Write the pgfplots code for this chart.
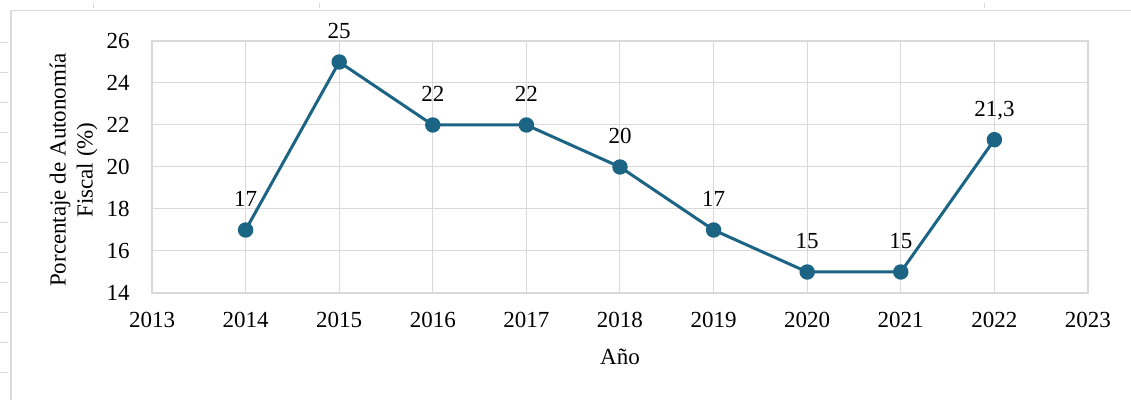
\documentclass[border=0pt]{standalone}
\usepackage{pgfplots}
\pgfplotsset{compat=1.18}
\usepackage{fontspec}
\setmainfont{Liberation Serif}
\definecolor{linec}{HTML}{1B6484}
\definecolor{gridc}{HTML}{D9D9D9}
\definecolor{framec}{HTML}{DADADA}
\begin{document}
\begin{tikzpicture}
\path[use as bounding box] (0pt,0pt) rectangle (565.5pt,200pt);
\begin{scope}[x=0.5pt,y=0.5pt]
% spreadsheet frame (decoration)
\draw[framec, line width=0.9pt] (11,389.5) -- (1131,389.5);
\draw[framec, line width=0.9pt] (11,389.5) -- (11,0);
\foreach \yy in {43,73,103,133,163,193,223,253,283,313,343,373}
  \draw[framec, line width=0.5pt] (0,400-\yy) -- (8,400-\yy);
\foreach \xx in {93,319,984}
  \draw[framec, line width=0.5pt] (\xx,392) -- (\xx,397);
\node[rotate=90, align=center, inner sep=0pt, font=\fontsize{11.5}{13.5}\selectfont] at (73.5,230) {Porcentaje de Autonomía\\Fiscal (\%)};
\end{scope}
\begin{axis}[
  at={(76pt,53.5pt)}, anchor=south west,
  scale only axis, width=468pt, height=126pt,
  xmin=2013, xmax=2023, ymin=14, ymax=26,
  xtick={2013,2014,...,2023}, ytick={14,16,...,26},
  /pgf/number format/assume math mode=true,
  xticklabel style={/pgf/number format/1000 sep={}, anchor=base, yshift=-17.5pt, inner sep=0pt},
  yticklabel style={anchor=east, xshift=-11pt, inner sep=0pt},
  ticklabel style={font=\fontsize{11.5}{13.8}\selectfont},
  major tick length=0pt,
  grid=major,
  major grid style={gridc, line width=0.5pt},
  axis line style={gridc, line width=0.6pt},
  xlabel={Año},
  every axis x label/.style={at={(axis description cs:0.5,0)}, anchor=base, yshift=-36pt, font=\fontsize{11.5}{13.8}\selectfont},
  clip=false,
]
\addplot[linec, line width=1.5pt, mark=*, mark size=3.1pt, mark options={fill=linec, draw=linec},
  point meta=explicit symbolic,
  nodes near coords,
  every node near coord/.style={anchor=base, yshift=11.5pt, inner sep=0pt, black, font=\fontsize{11.5}{13.8}\selectfont},
] table[meta=lab] {
x y lab
2014 17 17
2015 25 25
2016 22 22
2017 22 22
2018 20 20
2019 17 17
2020 15 15
2021 15 15
2022 21.3 21,3
};
\end{axis}
\end{tikzpicture}
\end{document}
